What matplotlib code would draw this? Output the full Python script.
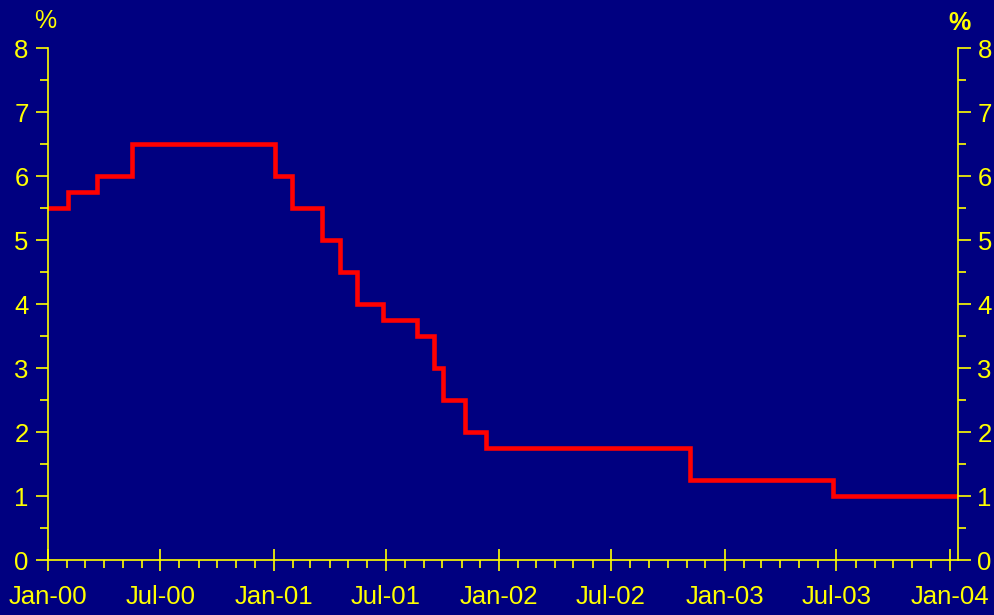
import matplotlib
matplotlib.use("Agg")
import matplotlib.pyplot as plt
import matplotlib.dates as mdates
import numpy as np
from datetime import datetime

# Target rate changes (effective dates) and levels, %
change_dates = ["2000-01-01", "2000-02-02", "2000-03-21", "2000-05-16",
                "2001-01-03", "2001-01-31", "2001-03-20", "2001-04-18",
                "2001-05-15", "2001-06-27", "2001-08-21", "2001-09-17",
                "2001-10-02", "2001-11-06", "2001-12-11", "2002-11-06",
                "2003-06-25", "2004-01-14"]
rates = [5.5, 5.75, 6.0, 6.5, 6.0, 5.5, 5.0, 4.5, 4.0, 3.75, 3.5, 3.0,
         2.5, 2.0, 1.75, 1.25, 1.0, 1.0]

x_labels = ["Jan-00", "Jul-00", "Jan-01", "Jul-01", "Jan-02", "Jul-02",
            "Jan-03", "Jul-03", "Jan-04"]
y_ticks = [0, 1, 2, 3, 4, 5, 6, 7, 8]

BG = "#000080"
FG = "#FFFF00"
LINE = "#FF0000"

plt.rcParams["font.family"] = ["Liberation Sans", "DejaVu Sans"]

fig = plt.figure(figsize=(9.95, 6.15), dpi=100, facecolor=BG)
ax = fig.add_axes([48 / 995, 1 - 560 / 615, (958 - 48) / 995, (560 - 48) / 615])
ax.set_facecolor(BG)

dates = [datetime.strptime(d, "%Y-%m-%d") for d in change_dates]
ax.step(dates, rates, where="post", color=LINE, lw=3.3, solid_joinstyle="miter")

ax.set_xlim(datetime(2000, 1, 1), datetime(2004, 1, 14))
ax.set_ylim(0, 8)

# x axis: half-yearly major ticks crossing the axis, monthly minor ticks
major_dates = [datetime(2000 + i // 2, 1 + 6 * (i % 2), 1) for i in range(len(x_labels))]
ax.set_xticks(major_dates)
ax.set_xticklabels(x_labels)
ax.xaxis.set_minor_locator(mdates.MonthLocator())
ax.tick_params(axis="x", which="major", direction="inout", length=16, width=1.2,
               color=FG, labelcolor=FG, labelsize=18.5, pad=10)
ax.tick_params(axis="x", which="minor", direction="out", length=6, width=1.2, color=FG)

# y axis on both sides
ax.set_yticks(y_ticks)
ax.set_yticks(np.arange(0.5, 8, 1.0), minor=True)
ax.tick_params(axis="y", which="major", direction="out", length=9, width=1.2,
               color=FG, labelcolor=FG, labelsize=18.5, left=True, right=True,
               labelleft=True, labelright=True, pad=5)
ax.tick_params(axis="y", which="minor", direction="out", length=6, width=1.2,
               color=FG, left=True, right=True)

for side in ["left", "right", "bottom"]:
    ax.spines[side].set_color(FG)
    ax.spines[side].set_linewidth(1.2)
ax.spines["top"].set_visible(False)

fig.text(45 / 995, 1 - 21 / 615, "%", color=FG, fontsize=18, ha="center", va="center")
fig.text(960 / 995, 1 - 23 / 615, "%", color=FG, fontsize=18, fontweight="bold",
         ha="center", va="center")

fig.savefig("out.png", dpi=100, facecolor=BG)
